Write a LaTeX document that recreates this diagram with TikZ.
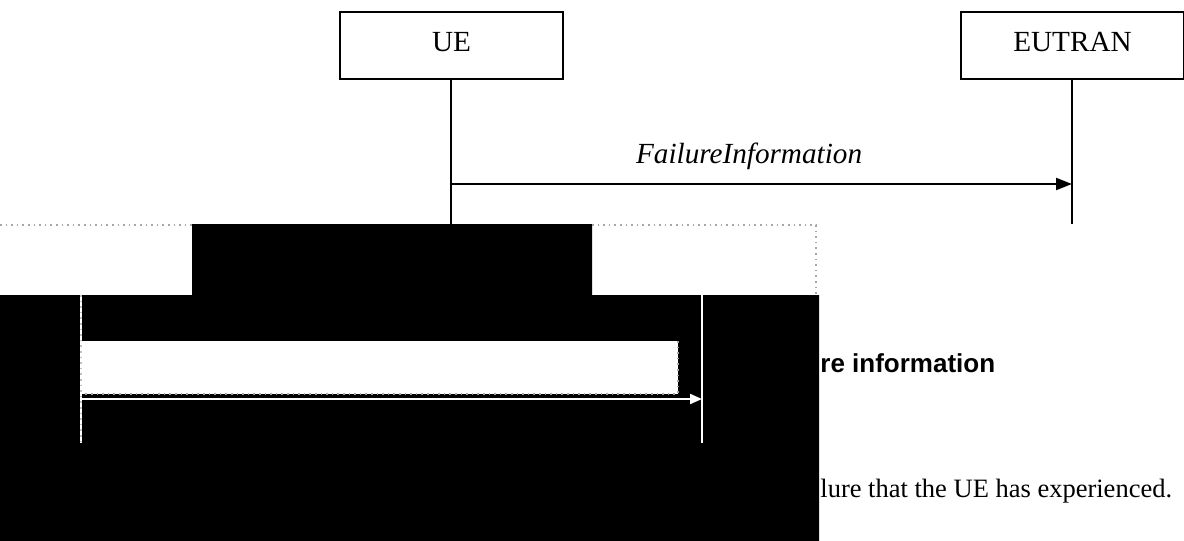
\documentclass[tikz,border=0pt]{standalone}
\usepackage{fontspec}
\setmainfont{Liberation Serif}
\newfontfamily\headfont{Liberation Sans}
\usetikzlibrary{arrows.meta,positioning}
\tikzset{
  entity/.style={
    rectangle, draw=black, line width=0.8pt, fill=white,
    minimum width=111.5pt, minimum height=33.5pt, inner sep=0pt,
    text height=10pt, text depth=4.5pt,
    font=\fontsize{14.6}{17}\selectfont
  },
  lifeline/.style={line width=0.6pt, color=black},
  msg/.style={-{Triangle[length=8pt,width=6pt]}, line width=1.1pt},
  msglabel/.style={font=\fontsize{14.6}{17}\selectfont\itshape, anchor=base},
  blackout/.style={fill=black, draw=none},
  seam/.style={gray!70, line width=0.8pt, dotted},
  wline/.style={white, line width=0.7pt},
  warrow/.style={-{Triangle[length=6pt,width=5pt]}, white, line width=1pt},
  headtext/.style={font=\headfont\bfseries\fontsize{13}{15}\selectfont, anchor=base west, inner sep=0pt},
  bodytext/.style={font=\fontsize{13.25}{16}\selectfont, anchor=base west, inner sep=0pt}
}
\begin{document}
\begin{tikzpicture}[x=0.5pt, y=-0.5pt]
  \useasboundingbox (0,0) rectangle (1184,541);

  % Entities
  \node[entity] (ue) at (451.5,45.5) {UE};
  \node[entity] (eutran) at (1072.5,45.5) {EUTRAN};

  % Lifelines
  \coordinate (ueend) at (451,224);
  \coordinate (eutranend) at (1072,224);
  \draw[lifeline] (ue.south -| ueend) -- (ueend);
  \draw[lifeline] (eutran.south -| eutranend) -- (eutranend);

  % Message
  \coordinate (msgfrom) at (451,184);
  \coordinate (msgto) at (1072,184);
  \draw[msg] (msgfrom) -- (msgto)
        node[msglabel, pos=0.48, yshift=10.5pt] (msgtxt) {FailureInformation};

  % Blacked out part
  \fill[blackout] (0,295) -- (192,295) -- (192,224) -- (592,224)
        -- (592,295) -- (819,295) -- (819,541) -- (0,541) -- cycle;
  \draw[seam] (0,225) -- (192,225);
  \draw[seam] (592,225) -- (816,225) -- (816,295);

  % Inverted copy inside the black part
  \coordinate (lefttop) at (81,295);
  \coordinate (leftbot) at (81,443);
  \coordinate (righttop) at (702,295);
  \coordinate (rightbot) at (702,443);
  \fill[white] (81,341) rectangle (678,394);
  \draw[seam] (678,341) -- (678,394) -- (81,394);
  \draw[wline] (lefttop) -- (leftbot);
  \draw[seam, gray!50] (lefttop) -- (leftbot);
  \draw[wline] (righttop) -- (rightbot);
  \coordinate (invfrom) at (81,399);
  \coordinate (invto) at (702,399);
  \draw[warrow] (invfrom) -- (invto);

  % Text beside the black part
  \node[headtext] (head) at (820,372) {re information};
  \node[bodytext] (body) at (820,497) {lure that the UE has experienced.};
\end{tikzpicture}
\end{document}
